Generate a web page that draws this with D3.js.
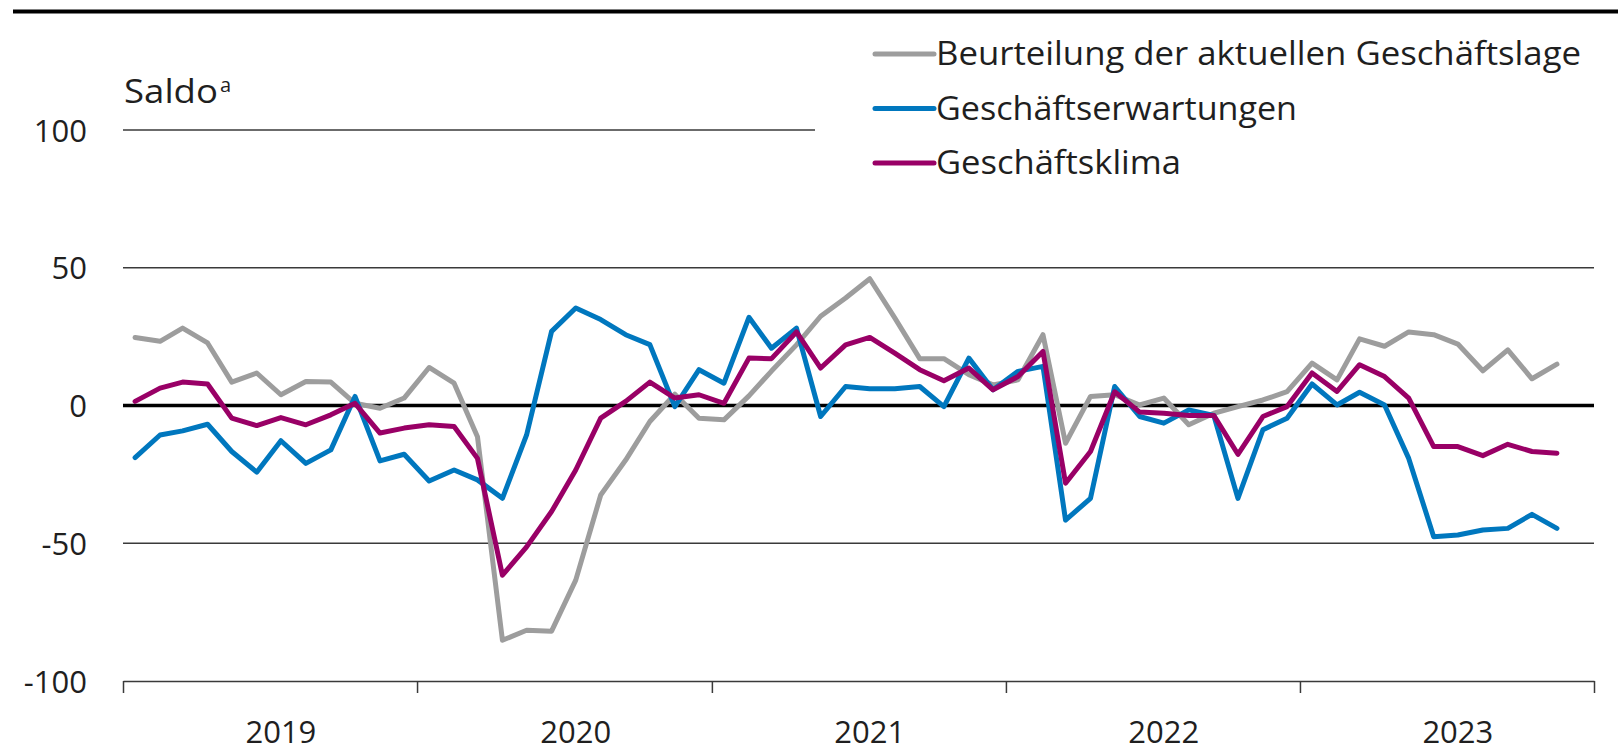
<!DOCTYPE html>
<html>
<head>
<meta charset="utf-8">
<script src="https://cdn.jsdelivr.net/npm/d3@7"></script>
<style>
  html, body { margin: 0; padding: 0; background: #fff; }
  svg { display: block; }
  text { font-family: "Open Sans", Lato, sans-serif; fill: #1f1f1f; }
</style>
</head>
<body>
<svg id="chart" width="1618" height="749"></svg>
<script>
// monthly values, Jan 2019 .. Nov 2023
var years = [2019, 2020, 2021, 2022, 2023];
var yTicks = [100, 50, 0, -50, -100];

var lage = [
  24.7, 23.3, 28.1, 22.7, 8.5, 11.8, 3.9, 8.7, 8.5, 0.8, -1.0, 2.7,
  13.8, 8.1, -11.3, -85.2, -81.6, -81.9, -63.4, -32.5, -19.8, -5.8, 4.1, -4.6,
  -5.2, 3.5, 12.5, 22.0, 32.4, 39.0, 46.0, 31.8, 17.0, 17.0, 11.2, 7.5,
  9.3, 25.7, -13.7, 3.3, 3.9, 0.2, 2.7, -7.0, -2.8, -0.4, 2.0, 5.0,
  15.4, 9.3, 24.2, 21.5, 26.7, 25.7, 22.3, 12.6, 20.2, 9.7, 15.0
];
var erwartungen = [
  -18.9, -10.7, -9.2, -6.8, -16.7, -24.2, -12.8, -21.0, -16.1, 3.3, -20.1, -17.7,
  -27.4, -23.4, -27.0, -33.7, -10.7, 26.9, 35.4, 31.2, 25.7, 22.1, -0.4, 13.0,
  8.1, 32.0, 20.8, 28.1, -4.0, 6.9, 6.1, 6.1, 6.9, -0.4, 17.2, 5.7,
  12.4, 14.2, -41.6, -33.7, 6.9, -4.0, -6.4, -1.6, -3.6, -33.7, -8.8, -4.6,
  7.8, 0.2, 4.8, 0.2, -19.2, -47.6, -47.0, -45.2, -44.6, -39.5, -44.6
];
var klima = [
  1.5, 6.3, 8.5, 7.8, -4.6, -7.3, -4.4, -7.0, -3.4, 0.8, -10.0, -8.2,
  -7.0, -7.6, -19.2, -61.6, -51.3, -38.5, -23.4, -4.6, 1.5, 8.5, 2.7, 3.9,
  0.8, 17.2, 17.0, 26.7, 13.6, 22.0, 24.7, 19.0, 13.0, 9.0, 13.6, 5.7,
  10.5, 19.6, -28.2, -16.7, 5.0, -2.4, -2.8, -3.6, -3.6, -17.7, -4.0, -0.4,
  11.8, 5.1, 14.8, 10.5, 2.7, -14.9, -14.9, -18.2, -14.1, -16.7, -17.3
];

var series = [
  { name: 'Beurteilung der aktuellen Geschäftslage', values: lage, color: '#9d9d9d', width: 645 },
  { name: 'Geschäftserwartungen', values: erwartungen, color: '#0077be', width: 361 },
  { name: 'Geschäftsklima', values: klima, color: '#990066', width: 245 }
];

var svg = d3.select('#chart');
var left = 123;
var right = 1594;

var x = d3.scaleTime()
  .domain([new Date(years[0], 0, 1), new Date(years[years.length - 1] + 1, 0, 1)])
  .range([left, right]);
var y = d3.scaleLinear().domain([-100, 100]).range([681, 130]);

function monthDate(i) {
  return new Date(years[0] + Math.floor(i / 12), i % 12, 16);
}

// top rule
svg.append('line')
  .attr('x1', 13).attr('x2', 1618)
  .attr('y1', 11.5).attr('y2', 11.5)
  .attr('stroke', '#000').attr('stroke-width', 4);

// gridlines (the 100 line stops short of the legend)
svg.append('g').selectAll('line')
  .data(yTicks.filter(function(d) { return d !== -100; }))
  .enter().append('line')
  .attr('x1', left)
  .attr('x2', function(d) { return d === 100 ? 815 : right; })
  .attr('y1', function(d) { return y(d); })
  .attr('y2', function(d) { return y(d); })
  .attr('stroke', function(d) { return d === 0 ? '#000' : '#3a3a3a'; })
  .attr('stroke-width', function(d) { return d === 0 ? 3.5 : 1.5; });

// y labels
svg.append('g')
  .attr('transform', 'translate(87,0)')
  .call(d3.axisLeft(y).tickValues(yTicks).tickSize(0).tickPadding(0).tickFormat(function(d) { return String(d); }))
  .call(function(g) {
    g.select('.domain').remove();
    g.selectAll('text')
      .attr('font-size', 31)
      .attr('font-family', '"Open Sans", sans-serif')
      .attr('fill', '#1f1f1f')
      .attr('dy', '0.36em');
  });

svg.append('text')
  .attr('x', 124).attr('y', 103)
  .attr('font-size', 33)
  .attr('textLength', 94)
  .attr('lengthAdjust', 'spacingAndGlyphs')
  .text('Saldo');
svg.append('text')
  .attr('x', 220).attr('y', 92)
  .attr('font-size', 20)
  .text('a');

// x axis
var yearStarts = years.map(function(yr) { return new Date(yr, 0, 1); })
  .concat([new Date(years[years.length - 1] + 1, 0, 1)]);
svg.append('g')
  .attr('transform', 'translate(0,' + y(-100) + ')')
  .call(d3.axisBottom(x).tickValues(yearStarts).tickSize(12).tickSizeOuter(0).tickFormat(''))
  .call(function(g) {
    g.select('.domain').attr('stroke', '#3a3a3a').attr('stroke-width', 1.5);
    g.selectAll('.tick line').attr('stroke', '#3a3a3a').attr('stroke-width', 1.5);
  });

svg.append('g').selectAll('text')
  .data(years)
  .enter().append('text')
  .attr('x', function(d) { return x(new Date(d, 6, 16)); })
  .attr('y', 743)
  .attr('text-anchor', 'middle')
  .attr('font-size', 31)
  .text(function(d) { return d; });

// lines
var line = d3.line()
  .x(function(d, i) { return x(monthDate(i)); })
  .y(function(d) { return y(d); });

svg.append('g').selectAll('path')
  .data(series)
  .enter().append('path')
  .attr('d', function(d) { return line(d.values); })
  .attr('fill', 'none')
  .attr('stroke', function(d) { return d.color; })
  .attr('stroke-width', 5)
  .attr('stroke-linejoin', 'round')
  .attr('stroke-linecap', 'round');

// legend
var legend = svg.append('g').selectAll('g')
  .data(series)
  .enter().append('g')
  .attr('transform', function(d, i) { return 'translate(875,' + (54 + i * 54.5) + ')'; });
legend.append('line')
  .attr('x1', 0).attr('x2', 59)
  .attr('stroke', function(d) { return d.color; })
  .attr('stroke-width', 5)
  .attr('stroke-linecap', 'round');
legend.append('text')
  .attr('x', 61).attr('y', 11)
  .attr('font-size', 33)
  .attr('textLength', function(d) { return d.width; })
  .attr('lengthAdjust', 'spacingAndGlyphs')
  .text(function(d) { return d.name; });
</script>
</body>
</html>
